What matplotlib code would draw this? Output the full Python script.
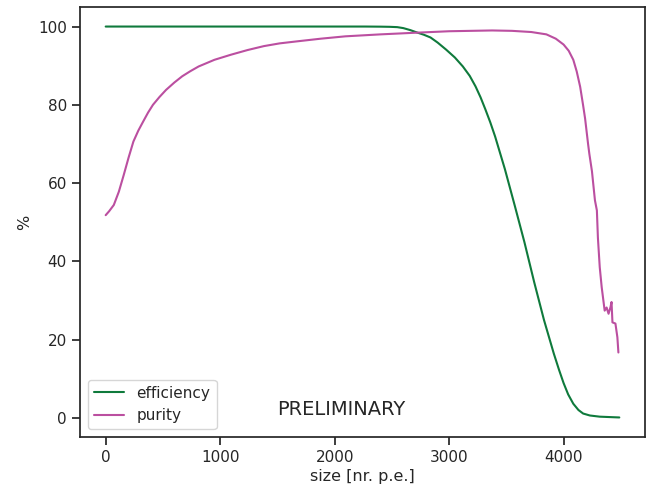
import matplotlib
matplotlib.use("Agg")
import matplotlib.pyplot as plt
import seaborn as sns

sns.set_style("ticks")
sns.set_context("notebook")
plt.rcParams['font.family'] = ['DejaVu Sans']

# values
eff_size = [0, 500, 1000, 1500, 2000, 2265, 2400, 2480, 2547, 2600, 2660,
            2718, 2780, 2838, 2900, 2974, 3050, 3120, 3180, 3231, 3275, 3316,
            3360, 3402, 3487, 3573, 3658, 3744, 3829, 3915, 3960, 4000, 4040,
            4085, 4130, 4171, 4230, 4316, 4400, 4487]
eff_val = [100, 100, 100, 100, 100, 100, 99.97, 99.93, 99.85, 99.6, 99.1,
           98.5, 97.9, 97.2, 95.9, 94.1, 92.1, 89.8, 87.4, 84.7, 81.9, 78.9,
           75.5, 71.9, 63.6, 54.3, 44.9, 34.6, 25.0, 16.4, 12.3, 8.9, 6.0,
           3.6, 2.0, 1.1, 0.6, 0.3, 0.2, 0.1]

pur_size = [0, 30, 71, 115, 157, 200, 242, 285, 327, 370, 413, 470, 527,
            600, 669, 740, 812, 950, 1094, 1240, 1382, 1520, 1667, 1880, 2094,
            2400, 2692, 3000, 3376, 3550, 3718, 3850, 3932, 4000,
            4045, 4085, 4115, 4145, 4170, 4188, 4214, 4225, 4248, 4274, 4291,
            4300, 4316, 4333, 4359, 4376, 4393, 4410, 4419, 4427, 4453, 4470,
            4479]
pur_val = [51.8, 52.8, 54.4, 57.8, 62.0, 66.5, 70.6, 73.4, 75.7, 78.0, 80.0,
           82.0, 83.8, 85.7, 87.3, 88.6, 89.8, 91.5, 92.8, 94.0, 95.0, 95.7,
           96.2, 96.9, 97.5, 98.0, 98.4, 98.8, 99.0, 98.9, 98.6, 98.0, 96.9,
           95.4, 93.8, 91.5, 88.5, 84.6, 80.0, 76.5, 70.0, 67.5, 63.0, 55.6,
           53.0, 46.0, 38.5, 33.4, 27.4, 28.2, 26.6, 28.3, 29.6, 24.4, 24.1,
           20.6, 16.7]

fig = plt.figure(figsize=(6.46, 4.88), dpi=100)
ax = fig.add_axes([80/646, (488-437)/488, 565/646, 430/488])

ax.plot(eff_size, eff_val, color="#0f7a3c", linewidth=1.5, label="efficiency")
ax.plot(pur_size, pur_val, color="#bb4fa0", linewidth=1.5, label="purity")

ax.set_xlabel("size [nr. p.e.]", fontsize=11.5, labelpad=3)
ax.set_ylabel("%", fontsize=11.5)
ax.set_xticks([0, 1000, 2000, 3000, 4000])
ax.set_yticks([0, 20, 40, 60, 80, 100])
ax.legend(loc="lower left")
ax.text(1500, 0.8, "PRELIMINARY", ha="left", va="baseline",
        fontsize=14, color="#262626")

fig.savefig("out.png", dpi=100)
